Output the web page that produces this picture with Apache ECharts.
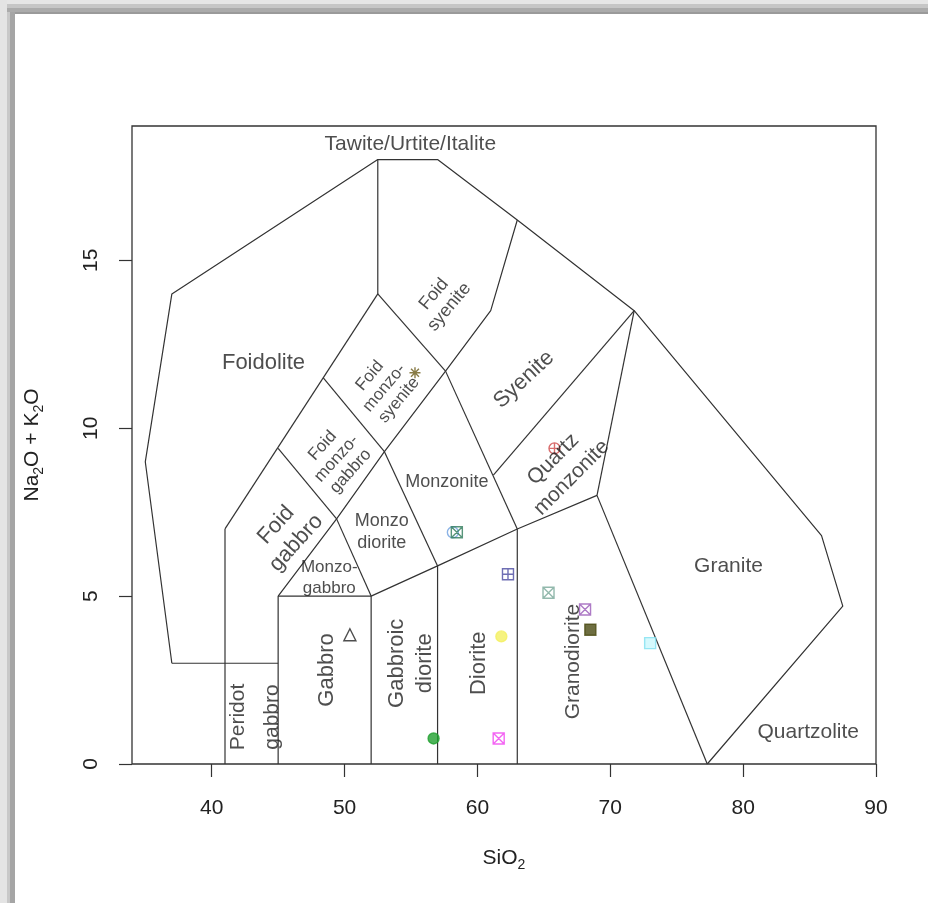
<!DOCTYPE html>
<html><head><meta charset="utf-8">
<script src="https://cdn.jsdelivr.net/npm/echarts@6/dist/echarts.min.js"></script>
<style>html,body{margin:0;padding:0;background:#fff}#c{width:928px;height:903px}</style>
</head><body><div id="c"></div>
<script>
// ---- Classification field boundaries (SiO2 wt%, Na2O+K2O wt%) ----
const outerBoundary = [[37,3],[35,9],[37,14],[52.5,18],[57,18],[63,16.2],[71.8,13.5],[85.9,6.8],[87.5,4.7],[77.3,0]];
const foidoliteBase = [[37,3],[45,3]];
const peridotLeft = [[41,0],[41,7]];
const foidDiagonal = [[41,7],[52.5,14]];
const tawiteDivide = [[52.5,14],[52.5,18]];
const foidMonzosyeniteTop = [[52.5,14],[57.6,11.7]];
const foidSyeniteRight = [[57.6,11.7],[61,13.5],[63,16.2]];
const monzoDiagonal = [[45,5],[49.4,7.3],[53,9.3],[57.6,11.7]];
const foidGabbroRight = [[45,9.4],[49.4,7.3]];
const foidMonzogabbroRight = [[48.4,11.5],[53,9.3]];
const monzogabbroRight = [[49.4,7.3],[52,5]];
const monzodioriteRight = [[53,9.3],[57,5.9]];
const monzoniteRight = [[57.6,11.7],[63,7]];
const gabbroLeft = [[45,0],[45,5]];
const gabbroTop = [[45,5],[52,5]];
const gabbroRight = [[52,0],[52,5]];
const dioriteTop = [[52,5],[57,5.9],[63,7],[69,8]];
const gabbroicDioriteRight = [[57,0],[57,5.9]];
const dioriteRight = [[63,0],[63,7]];
const syeniteBase = [[61.2,8.6],[71.8,13.5]];
const quartzMonzoniteRight = [[69,8],[71.8,13.5]];
const graniteLeft = [[69,8],[77.3,0]];
const fieldLines = [outerBoundary, foidoliteBase, peridotLeft, foidDiagonal, tawiteDivide,
  foidMonzosyeniteTop, foidSyeniteRight, monzoDiagonal, foidGabbroRight, foidMonzogabbroRight,
  monzogabbroRight, monzodioriteRight, monzoniteRight, gabbroLeft, gabbroTop, gabbroRight,
  dioriteTop, gabbroicDioriteRight, dioriteRight, syeniteBase, quartzMonzoniteRight, graniteLeft];

// ---- Axis ticks ----
const xTicks = [40,50,60,70,80,90];
const yTicks = [0,5,10,15];

// ---- Samples ----
const sampleSiO2   = [58.15, 58.45, 62.3, 65.35, 68.1, 68.5, 73.0, 61.8, 56.7, 61.6, 50.4, 65.8, 55.3];
const sampleAlkali = [6.9,   6.9,   5.65, 5.1,   4.6,  4.0,  3.6,  3.8,  0.76, 0.76, 3.85, 9.4,  11.65];

// ---- Field names and their anchor points ----
const regionNames = ['Tawite/Urtite/Italite','Foidolite','Foid\nsyenite','Foid\nmonzo-\nsyenite','Foid\nmonzo-\ngabbro',
  'Foid\ngabbro','Monzonite','Monzo\ndiorite','Monzo-\ngabbro','Syenite','Quartz\nmonzonite','Granite','Quartzolite',
  'Gabbro','Gabbroic\ndiorite','Diorite','Granodiorite','Peridot\ngabbro'];
const regionX = [54.95, 43.9, 57.3, 53.0, 49.4, 45.6, 57.7, 52.8, 48.85, 63.5, 66.4, 78.9, 84.9, 48.7, 55.0, 60.1, 67.2, 43.3];
const regionY = [18.45, 11.95, 13.8, 11.2, 9.1, 6.85, 8.4, 6.9, 5.55, 11.45, 8.8, 5.9, 0.95, 2.8, 3.0, 3.0, 3.05, 1.4];

// ---- Styles (kept apart from the data) ----
const P_BOXX = 'path://M1,1H19V19H1Z M1,1L19,19 M19,1L1,19';
const P_BOXPLUS = 'path://M1,1H19V19H1Z M10,1V19 M1,10H19';
const P_CIRCPLUS = 'path://M10,1A9,9 0 1,1 9.99,1Z M10,1V19 M1,10H19';
const P_STAR = 'path://M10,1V19 M1,10H19 M3.5,3.5L16.5,16.5 M16.5,3.5L3.5,16.5';
const sampleStyle = [
  {symbol:'circle', fill:'rgba(0,0,0,0)', stroke:'#6fa0e0'},
  {symbol:P_BOXX, fill:'rgba(0,0,0,0)', stroke:'#2e7a5a'},
  {symbol:P_BOXPLUS, fill:'rgba(0,0,0,0)', stroke:'#4a4aa0'},
  {symbol:P_BOXX, fill:'rgba(0,0,0,0)', stroke:'#78a898'},
  {symbol:P_BOXX, fill:'rgba(0,0,0,0)', stroke:'#9a5ab8'},
  {symbol:'rect', fill:'#4a4a12', stroke:'#4a4a12'},
  {symbol:'rect', fill:'rgba(150,240,250,0.5)', stroke:'#80e0f0'},
  {symbol:'circle', fill:'#f4f060', stroke:'#f4f060'},
  {symbol:'circle', fill:'#20a030', stroke:'#20a030'},
  {symbol:P_BOXX, fill:'rgba(0,0,0,0)', stroke:'#f040f0'},
  {symbol:'triangle', fill:'rgba(0,0,0,0)', stroke:'#222'},
  {symbol:P_CIRCPLUS, fill:'rgba(0,0,0,0)', stroke:'#d04848'},
  {symbol:P_STAR, fill:'rgba(0,0,0,0)', stroke:'#6a5a18'}
];
const labelStyle = [
  {size:21, rot:0}, {size:22, rot:0}, {size:18, rot:50, lh:20}, {size:17, rot:50, lh:19}, {size:17, rot:48, lh:19},
  {size:22, rot:48, lh:27}, {size:18, rot:0}, {size:18, rot:0, lh:22}, {size:17, rot:0, lh:21}, {size:22, rot:43},
  {size:21, rot:45, lh:26}, {size:21, rot:0}, {size:21, rot:0},
  {size:22, rot:90}, {size:22, rot:90, lh:28}, {size:22, rot:90}, {size:21, rot:90}, {size:21, rot:90, lh:34}
];

const FONT = 'Liberation Sans, Arial, sans-serif';
const LINE = '#333';
const TXT = '#222';

const series = [];
fieldLines.forEach(function(pts){
  series.push({type:'line', data:pts, symbol:'none', silent:true, animation:false,
    lineStyle:{color:LINE, width:1.2}, z:2});
});
series.push({
  type:'scatter', animation:false, silent:true, z:3,
  data: sampleSiO2.map(function(x,i){
    const s = sampleStyle[i];
    return {value:[x, sampleAlkali[i]], symbol:s.symbol,
      symbolSize: s.symbol==='triangle' ? 12 : 11,
      itemStyle:{color:s.fill, borderColor:s.stroke, borderWidth:1.4}};
  })
});
series.push({
  type:'scatter', animation:false, silent:true, z:4, symbolSize:1,
  itemStyle:{color:'rgba(0,0,0,0)'},
  data: regionNames.map(function(n,i){
    const st = labelStyle[i];
    return {value:[regionX[i], regionY[i]], name:n,
      label:{show:true, position:'inside', formatter:n, rotate:st.rot, fontSize:st.size,
        lineHeight: st.lh || Math.round(st.size*1.25), align:'center', verticalAlign:'middle',
        color:TXT, fontFamily:FONT}};
  })
});

const chart = echarts.init(document.getElementById('c'), null, {renderer:'canvas'});
chart.setOption({
  backgroundColor:'#fff',
  animation:false,
  grid:{left:132, right:52, top:126, bottom:139, show:true, borderColor:'#333', borderWidth:1.3, backgroundColor:'rgba(0,0,0,0)'},
  xAxis:{type:'value', min:34, max:90,
    name:'{a|SiO}{s|2}', nameLocation:'middle', nameGap:80,
    nameTextStyle:{rich:{a:{fontSize:21, lineHeight:28, color:TXT, fontFamily:FONT},
                         s:{fontSize:14, lineHeight:16, verticalAlign:'bottom', color:TXT, fontFamily:FONT}}},
    axisLine:{show:false}, splitLine:{show:false},
    axisTick:{show:true, length:13, customValues:xTicks, lineStyle:{color:'#333', width:1.2}},
    axisLabel:{customValues:xTicks, margin:34, fontSize:21, color:TXT, fontFamily:FONT}
  },
  yAxis:{type:'value', min:0, max:19,
    name:'{a|Na}{s|2}{a|O + K}{s|2}{a|O}', nameLocation:'middle', nameGap:86, nameRotate:90,
    nameTextStyle:{rich:{a:{fontSize:21, lineHeight:28, color:TXT, fontFamily:FONT},
                         s:{fontSize:14, lineHeight:16, verticalAlign:'bottom', color:TXT, fontFamily:FONT}}},
    axisLine:{show:false}, splitLine:{show:false},
    axisTick:{show:true, length:13, customValues:yTicks, lineStyle:{color:'#333', width:1.2}},
    axisLabel:{customValues:yTicks, rotate:90, margin:30, fontSize:21, color:TXT, fontFamily:FONT}
  },
  graphic:[
    {type:'rect', left:0, top:0, shape:{width:928, height:4}, style:{fill:'#e6e6e6'}, silent:true},
    {type:'rect', left:0, top:4, shape:{width:928, height:4}, style:{fill:'#c6c6c6'}, silent:true},
    {type:'rect', left:0, top:8, shape:{width:928, height:4}, style:{fill:'#ababab'}, silent:true},
    {type:'rect', left:0, top:12, shape:{width:928, height:2}, style:{fill:'#9a9a9a'}, silent:true},
    {type:'rect', left:0, top:0, shape:{width:7, height:903}, style:{fill:'#e4e4e4'}, silent:true},
    {type:'rect', left:7, top:12, shape:{width:3, height:891}, style:{fill:'#c8c8c8'}, silent:true},
    {type:'rect', left:10, top:12, shape:{width:5, height:891}, style:{fill:'#a5a5a5'}, silent:true}
  ],
  series: series
});
</script></body></html>
